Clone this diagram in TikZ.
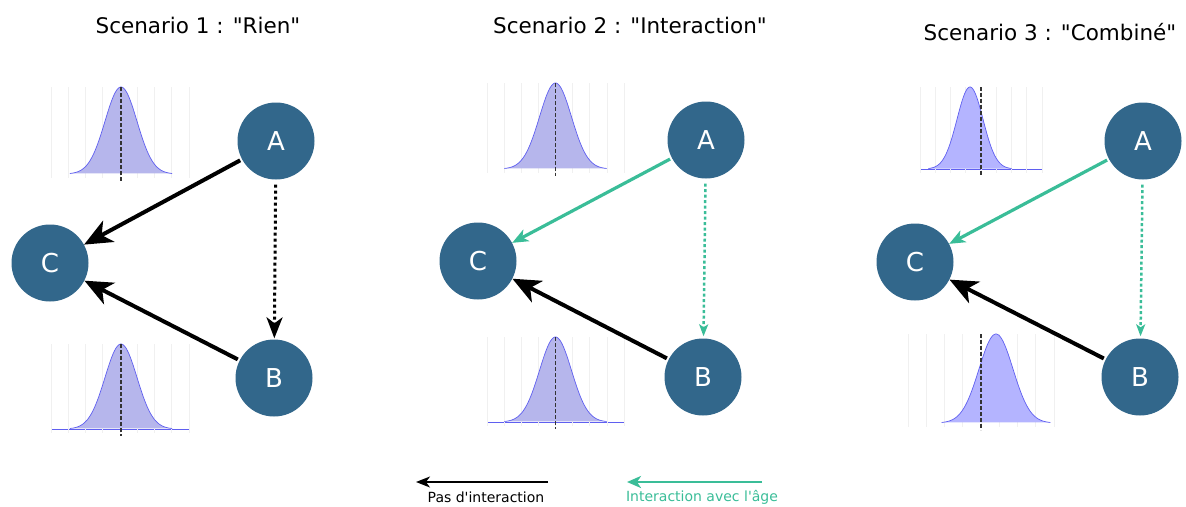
\documentclass[tikz,border=0pt]{standalone}
\usepackage{fontspec}
\setmainfont{DejaVu Sans}
\usepackage{xcolor}
\usetikzlibrary{arrows.meta}

\definecolor{nodeblue}{RGB}{50,103,139}
\definecolor{agegreen}{RGB}{58,189,152}
\definecolor{distfill}{RGB}{182,182,236}
\definecolor{distfillb}{RGB}{180,180,255}
\definecolor{distline}{RGB}{95,95,240}

% grid, density, zero line of one small plot
% #1 left, #2 right, #3 top, #4 base, #5 mean, #6 sigma, #7 zero, #8 fill
\newcommand{\distrib}[8]{%
  \pgfmathsetmacro\dlo{#5-3.2*#6}
  \pgfmathsetmacro\dhi{#5+3.2*#6}
  \foreach \k in {0,...,8}
    \draw[gridline] ({#1+\k*(#2-#1)/8},#3) -- ({#1+\k*(#2-#1)/8},{#4+4});
  \fill[#8] plot[domain=\dlo:\dhi,samples=70] (\x,{#4-(#4-#3)*exp(-((\x-#5)^2)/(2*#6*#6))}) -- cycle;
  \draw[curveline] plot[domain=\dlo:\dhi,samples=70] (\x,{#4-(#4-#3)*exp(-((\x-#5)^2)/(2*#6*#6))});
  \draw[zeroline] (#7,#3) -- (#7,{#4+7});
}

\begin{document}
\begin{tikzpicture}[x=1pt,y=-1pt,
  var/.style={circle,fill=nodeblue,text=white,minimum size=77pt,inner sep=0pt,font=\fontsize{26}{30}\selectfont},
  title/.style={font=\fontsize{21.5}{24}\selectfont},
  legend/.style={font=\fontsize{14}{16}\selectfont},
  gridline/.style={draw=gray!12,line width=0.6pt},
  curveline/.style={draw=distline,line width=0.7pt},
  zeroline/.style={draw=black!80,line width=1.3pt,dash pattern=on 4pt off 2pt},
  plain/.style={-{Stealth[length=28pt,width=24pt,inset=8pt]},line width=4pt,shorten <=2pt},
  plaindot/.style={-{Stealth[length=21pt,width=16pt,inset=6pt]},line width=3pt,dash pattern=on 3pt off 3pt,shorten <=5pt,shorten >=1pt},
  age/.style={-{Stealth[length=16pt,width=13pt,inset=4.5pt]},draw=agegreen,line width=3.2pt,shorten <=2pt},
  agedot/.style={-{Stealth[length=12pt,width=9pt,inset=3pt]},draw=agegreen,line width=2.5pt,dash pattern=on 3pt off 2.5pt,shorten <=5pt,shorten >=2pt}]
\useasboundingbox (0,0) rectangle (1186,506);

% titles
\node[title] (t1) at (198,25) {Scenario 1 : \textquotedbl Rien\textquotedbl};
\node[title] (t2) at (630,25) {Scenario 2 : \textquotedbl Interaction\textquotedbl};
\node[title] (t3) at (1050,32) {Scenario 3 : \textquotedbl Combiné\textquotedbl};

% plots
\distrib{51}{189}{87}{174}{121}{16}{121}{distfill}
\draw[curveline] (51,429) -- (189,429);
\distrib{51}{189}{344}{429}{121}{16}{121}{distfill}
\distrib{487}{624}{83}{169}{555.5}{16}{555.5}{distfill}
\draw[curveline] (487,422) -- (624,422);
\distrib{487}{624}{337}{422}{555.5}{16}{555.5}{distfill}
\draw[curveline] (920,169) -- (1042,169);
\distrib{920}{1042}{87}{169}{970}{13}{981}{distfillb}
\distrib{908}{1054}{334}{423}{996}{17}{981}{distfillb}

% scenario 1
\node[var] (A1) at (276,141) {A};
\node[var] (C1) at (50,263) {C};
\node[var] (B1) at (274,378) {B};
\draw[plain] (A1) -- (C1);
\draw[plaindot] (A1) -- (B1);
\draw[plain] (B1) -- (C1);

% scenario 2
\node[var] (A2) at (706,140) {A};
\node[var] (C2) at (478,261) {C};
\node[var] (B2) at (703,377) {B};
\draw[age] (A2) -- (C2);
\draw[agedot] (A2) -- (B2);
\draw[plain] (B2) -- (C2);

% scenario 3
\node[var] (A3) at (1143,141) {A};
\node[var] (C3) at (915,262) {C};
\node[var] (B3) at (1140,377) {B};
\draw[age] (A3) -- (C3);
\draw[agedot] (A3) -- (B3);
\draw[plain] (B3) -- (C3);

% legend
\coordinate (lb1) at (548,482);
\coordinate (lb2) at (416,482);
\coordinate (lg1) at (762,482);
\coordinate (lg2) at (627,482);
\draw[-{Stealth[length=14pt,width=11pt,inset=4pt]},line width=1.4pt] (lb1) -- (lb2);
\draw[-{Stealth[length=14pt,width=12pt,inset=4pt]},draw=agegreen,line width=2.5pt] (lg1) -- (lg2);
\node[legend] (lblack) at (486,497) {Pas d\textquotesingle interaction};
\node[legend,text=agegreen] (lgreen) at (702,497) {Interaction avec l\textquotesingle âge};
\end{tikzpicture}
\end{document}
